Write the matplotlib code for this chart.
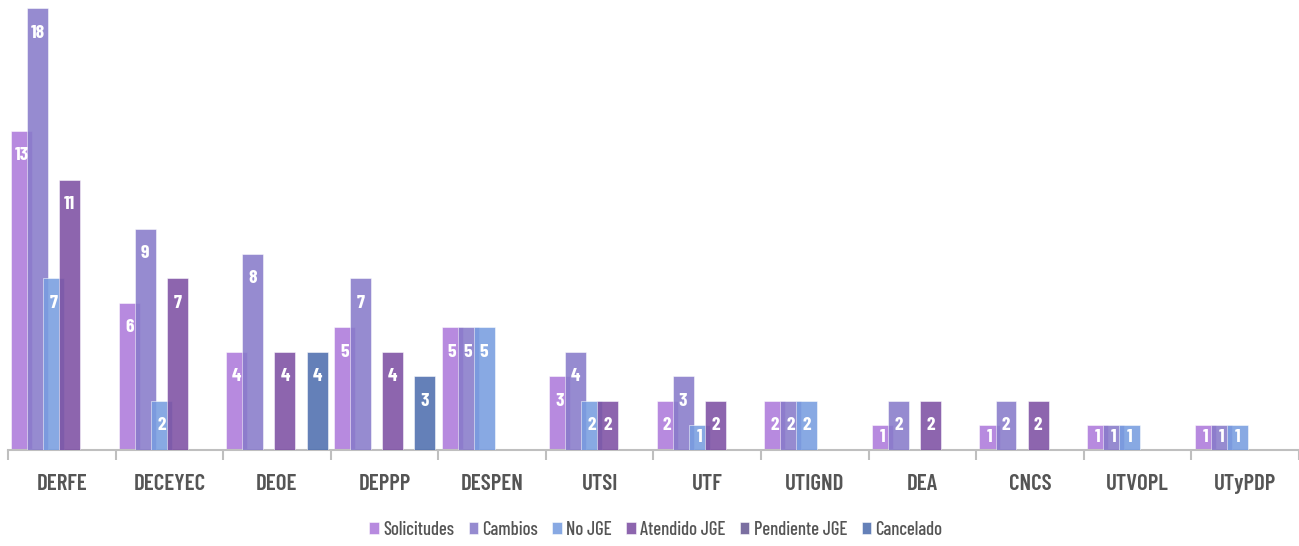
import matplotlib.pyplot as plt
import numpy as np

categories = ["DERFE", "DECEYEC", "DEOE", "DEPPP", "DESPEN", "UTSI",
              "UTF", "UTIGND", "DEA", "CNCS", "UTVOPL", "UTyPDP"]
series = ["Solicitudes", "Cambios", "No JGE", "Atendido JGE",
          "Pendiente JGE", "Cancelado"]

solicitudes = [13, 6, 4, 5, 5, 3, 2, 2, 1, 1, 1, 1]
cambios = [18, 9, 8, 7, 5, 4, 3, 2, 2, 2, 1, 1]
no_jge = [7, 2, 0, 0, 5, 2, 1, 2, 0, 0, 1, 1]
atendido_jge = [11, 7, 4, 4, 0, 2, 2, 0, 2, 2, 0, 0]
pendiente_jge = [0, 0, 0, 0, 0, 0, 0, 0, 0, 0, 0, 0]
cancelado = [0, 0, 4, 3, 0, 0, 0, 0, 0, 0, 0, 0]

values = [solicitudes, cambios, no_jge, atendido_jge, pendiente_jge, cancelado]
colors = ["#B78ADF", "#968BD0", "#88A9E4", "#8D65AE", "#7B6FA1", "#6380B8"]

FONT = ["Barlow Condensed", "DejaVu Sans"]
ALPHA = 0.88


def darken_for_alpha(hexcol, alpha=ALPHA):
    # base colour that looks like hexcol once drawn with alpha over white
    rgb = np.array([int(hexcol[i:i + 2], 16) for i in (1, 3, 5)]) / 255
    return tuple(np.clip((rgb - (1 - alpha)) / alpha, 0, 1))


fig = plt.figure(figsize=(12.99, 5.46), dpi=100)
ax = fig.add_axes([8 / 1299, 96 / 546, 1291 / 1299, 442 / 546])

x = np.arange(len(categories))
width = 0.195
step = 0.149
unit_px = 442 / 18

for i, (name, vals, col) in enumerate(zip(series, values, colors)):
    pos = x + (i - 2.5) * step
    ax.bar(pos, vals, width, color=darken_for_alpha(col), alpha=ALPHA,
           edgecolor="white", linewidth=0.4, label=name, zorder=2 + i)
    for p, v in zip(pos, vals):
        if v == 0:
            continue
        y = max(v - 25 / unit_px, v / 2)
        ax.text(p, y, str(v), ha="center", va="center", color="white",
                fontsize=14, fontweight="bold", family=FONT, zorder=20)

ax.set_xlim(-0.5, len(categories) - 0.5)
ax.set_ylim(0, 18)
ax.set_yticks([])
for s in ["top", "right", "left"]:
    ax.spines[s].set_visible(False)
ax.spines["bottom"].set_color("#BFBFBF")
ax.spines["bottom"].set_linewidth(1.5)

ax.set_xticks(np.arange(len(categories) + 1) - 0.5)
ax.set_xticklabels([])
ax.tick_params(axis="x", length=7, width=1.5, color="#BFBFBF")
for xi, c in zip(x, categories):
    ax.text(xi, -1.38, c, ha="center", va="center", fontsize=16.5,
            fontweight="semibold", color="#555555", family=FONT)

handles, labels = ax.get_legend_handles_labels()
fig.legend(handles, labels, loc="center", bbox_to_anchor=(0.505, 16 / 546),
           ncol=6, frameon=False, handlelength=0.5, handleheight=0.6,
           handletextpad=0.25, columnspacing=0.75,
           prop={"family": FONT, "size": 13.5, "weight": "medium"},
           labelcolor="#555555")

fig.savefig("out.png", dpi=100)
